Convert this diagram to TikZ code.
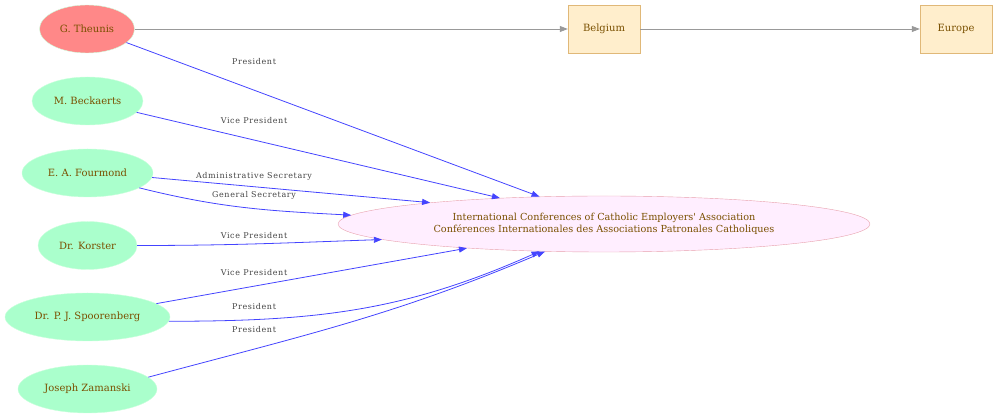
\documentclass[tikz,border=0pt]{standalone}
\usepackage{fontspec}
\setmainfont{DejaVu Serif}
\newfontfamily\lblfont[LetterSpace=8]{DejaVu Serif}
\usetikzlibrary{arrows.meta,shapes.geometric}
\definecolor{personfill}{HTML}{AAFFCC}
\definecolor{personline}{HTML}{CCFFDD}
\definecolor{headfill}{HTML}{FF8888}
\definecolor{orgfill}{HTML}{FFEEFF}
\definecolor{orgline}{HTML}{E8A0AC}
\definecolor{placefill}{HTML}{FFEECC}
\definecolor{placeline}{HTML}{E0B878}
\definecolor{nametext}{HTML}{7A5000}
\definecolor{lbltext}{HTML}{444444}
\definecolor{roleblue}{HTML}{4444FF}
\definecolor{linkgray}{HTML}{999999}

\begin{document}
\begin{tikzpicture}[x=1pt,y=-1pt,
  person/.style={ellipse,draw=personline,fill=personfill,text=nametext,
    font=\fontsize{10}{11}\selectfont,inner sep=0pt,minimum height=48pt},
  place/.style={rectangle,draw=placeline,fill=placefill,text=nametext,
    font=\fontsize{10}{11}\selectfont,minimum width=72pt,minimum height=48pt},
  org/.style={ellipse,draw=orgline,fill=orgfill,text=nametext,align=center,
    font=\fontsize{9.7}{12}\selectfont,inner sep=0pt,minimum width=532pt,minimum height=56pt},
  role/.style={draw=roleblue,line width=0.8pt,-{Triangle[length=8pt,width=6pt]}},
  link/.style={draw=linkgray,line width=0.8pt,-{Triangle[length=8pt,width=6pt]}},
  lbl/.style={text=lbltext,font=\lblfont\fontsize{8}{9}\selectfont,inner sep=0pt}]
                \useasboundingbox (0,0) rectangle (997,419);
                \node[person,fill=headfill,minimum width=95pt] (theunis) at (87,29) {G. Theunis};
                \node[person,minimum width=111pt] (beckaerts) at (87.5,101) {M. Beckaerts};
                \node[person,minimum width=131pt] (fourmond) at (87.5,173) {E. A. Fourmond};
                \node[person,minimum width=99pt] (korster) at (87.5,245.5) {Dr. Korster};
                \node[person,minimum width=165pt] (spoorenberg) at (87.5,317) {Dr. P. J. Spoorenberg};
                \node[person,minimum width=139pt] (zamanski) at (87.5,389) {Joseph Zamanski};
                \node[org] (cicea) at (604,224) {International Conferences of Catholic Employers\textquotesingle{} Association\\Conférences Internationales des Associations Patronales Catholiques};
                \node[place] (belgium) at (604,29) {Belgium};
                \node[place] (europe) at (956,29) {Europe};
                \draw[link] (theunis) -- (belgium);
                \draw[link] (belgium) -- (europe);
                \draw[role] (theunis.-19) -- (cicea.157);
                \draw[role] (beckaerts.-13) -- (cicea.166);
                \draw[role] (fourmond.-4) -- (cicea.173);
                \draw[role] (fourmond.-16) to[out=-14,in=177] (cicea.178);
                \draw[role] (korster.0) to[out=0,in=182] (cicea.184);
                \draw[role] (spoorenberg.11) -- (cicea.190);
                \draw[role] (spoorenberg.-3) to[out=0,in=204] (cicea.203);
                \draw[role] (zamanski.11) to[out=15,in=203] (cicea.205);
                \node[lbl] (lbeckpres) at (254,62) {President};
                \node[lbl] (lbeckvp) at (254,121) {Vice President};
                \node[lbl] (lfouradm) at (254,176) {Administrative Secretary};
                \node[lbl] (lfourgen) at (254,195) {General Secretary};
                \node[lbl] (lkorvp) at (254,236) {Vice President};
                \node[lbl] (lspoorvp) at (254,273) {Vice President};
                \node[lbl] (lspoorpres) at (254,307) {President};
                \node[lbl] (lzampres) at (254,330) {President};
            \end{tikzpicture}
\end{document}
